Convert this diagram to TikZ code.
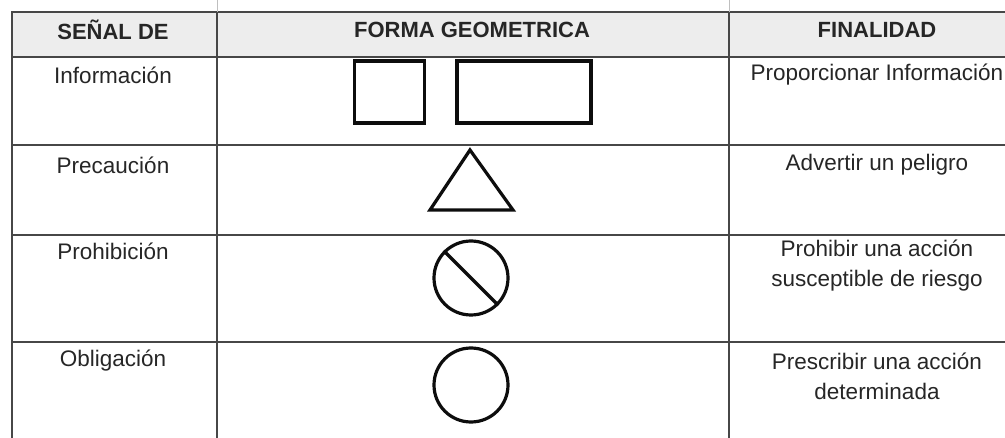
\documentclass[tikz,border=0pt]{standalone}
\usepackage{fontspec}
\setmainfont{Liberation Sans}
\begin{document}
\begin{tikzpicture}[x=1pt,y=-1pt,
  grid/.style={draw=black!72, line width=2.6pt},
  sym/.style={draw=black!95, line width=3.2pt},
  txt/.style={font=\fontsize{22.5}{30}\selectfont, text=black!85, align=center, inner sep=0pt},
  head/.style={font=\bfseries\fontsize{22}{25}\selectfont, text=black!85, inner sep=0pt}]
\useasboundingbox (0,0) rectangle (1005,438);
% header band
\fill[black!7] (12,12) rectangle (1005,57);
% grid
\draw[grid] (12,438) -- (12,12) -- (1005,12);
\draw[grid] (12,57) -- (1005,57);
\draw[grid] (12,145) -- (1005,145);
\draw[grid] (12,235) -- (1005,235);
\draw[grid] (12,342) -- (1005,342);
\draw[grid] (217,12) -- (217,438);
\draw[grid] (729,12) -- (729,438);
\draw[black!25, line width=1pt] (217,0) -- (217,12);
\draw[black!25, line width=1pt] (729,0) -- (729,12);
% header
\node[head] (h1) at (113,30) {SEÑAL DE};
\node[head] (h2) at (472,30) {FORMA GEOMETRICA};
\node[head] (h3) at (877,30) {FINALIDAD};
% column 1
\node[txt] (s1) at (113,75) {Información};
\node[txt] (s2) at (113,165) {Precaución};
\node[txt] (s3) at (113,251) {Prohibición};
\node[txt] (s4) at (113,361) {Obligación};
% column 3
\node[txt] (f1) at (877,75) {Proporcionar Información};
\node[txt] (f2) at (877,165) {Advertir un peligro};
\node[txt] (f3) at (877,265.5) {Prohibir una acción\\susceptible de riesgo};
\node[txt] (f4) at (877,376) {Prescribir una acción\\determinada};
% shapes
\node[sym, minimum width=70pt, minimum height=62pt, inner sep=0pt] (sq) at (389.5,92) {};
\node[sym, minimum width=134pt, minimum height=62pt, inner sep=0pt] (re) at (524,92) {};
\coordinate (ta) at (470,150);
\coordinate (tl) at (430,210);
\coordinate (tr) at (513,210);
\draw[sym, line join=miter] (ta) -- (tr) -- (tl) -- cycle;
\node[sym, circle, minimum size=74pt, inner sep=0pt] (pc) at (471,278) {};
\draw[sym] (pc.135) -- (pc.-45);
\node[sym, circle, minimum size=74pt, inner sep=0pt] (oc) at (471,385) {};
\end{tikzpicture}
\end{document}
